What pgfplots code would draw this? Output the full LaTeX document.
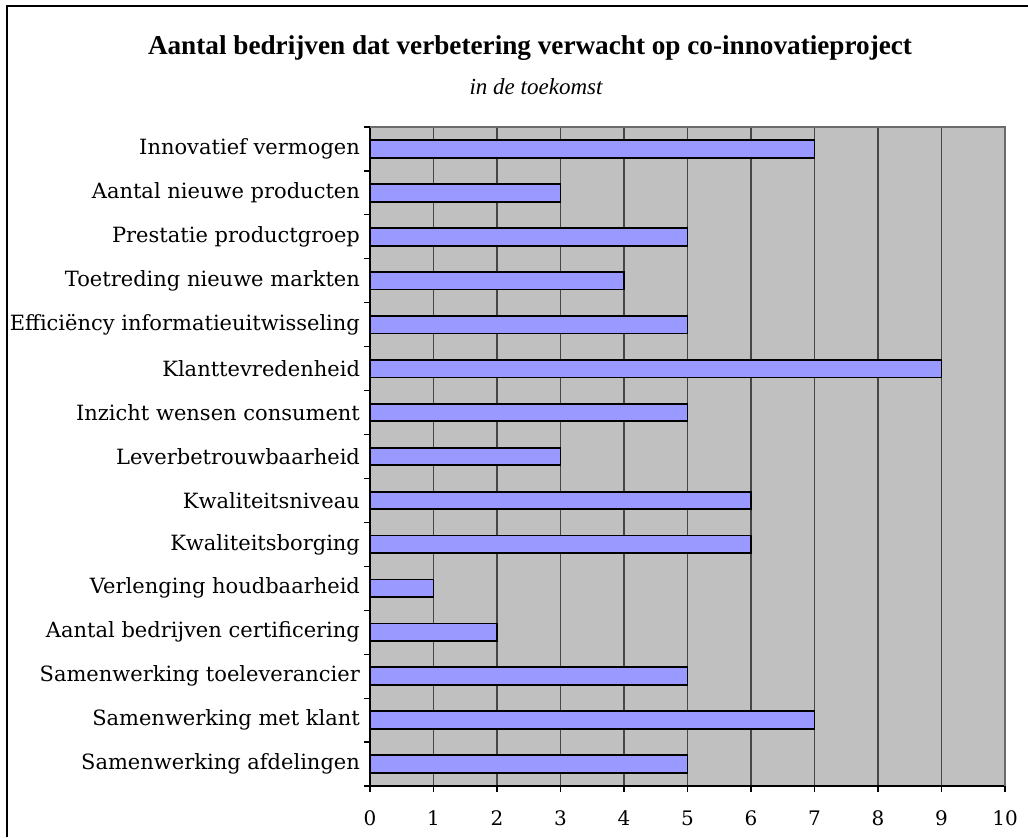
\documentclass[border=0pt]{standalone}
\usepackage{fontspec}
\setmainfont{Liberation Serif}
\newfontfamily\labelfont{DejaVu Serif}
\usepackage{pgfplots}
\pgfplotsset{compat=1.18}
\definecolor{plotbg}{RGB}{192,192,192}
\definecolor{barfill}{RGB}{153,153,255}
\definecolor{gridc}{RGB}{70,70,70}
\begin{document}
\begin{tikzpicture}[x=1pt,y=1pt]
\useasboundingbox (0,0) rectangle (514,418.5);
\draw[line width=1pt] (3.5,0) -- (3.5,415.5) -- (514,415.5);
\node[font=\fontsize{13.6}{15}\selectfont\bfseries] at (265,394.5) {Aantal bedrijven dat verbetering verwacht op co-innovatieproject};
\node[font=\fontsize{11.5}{13}\selectfont\itshape] at (268,375) {in de toekomst};
\begin{axis}[
  at={(185pt,25.5pt)}, anchor=south west,
  scale only axis, width=317.5pt, height=329.5pt,
  xmin=0, xmax=10, ymin=-0.5, ymax=14.5,
  xbar, bar width=0.4,
  axis x line*=bottom, axis y line*=left,
  axis line style={black, line width=0.8pt},
  axis background/.style={fill=plotbg},
  xtick={0,...,10},
  xmajorgrids, major grid style={gridc, line width=0.6pt},
  ytick={0,...,14},
  yticklabels={Samenwerking afdelingen,Samenwerking met klant,Samenwerking toeleverancier,Aantal bedrijven certificering,Verlenging houdbaarheid,Kwaliteitsborging,Kwaliteitsniveau,Leverbetrouwbaarheid,Inzicht wensen consument,Klanttevredenheid,Efficiëncy informatieuitwisseling,Toetreding nieuwe markten,Prestatie productgroep,Aantal nieuwe producten,Innovatief vermogen},
  minor ytick={-0.5,0.5,...,14.5},
  tick align=outside,
  major tick length=3pt, minor tick length=3pt,
  tick style={black, line width=0.6pt},
  major y tick style={draw=none},
  yticklabel style={font=\labelfont\fontsize{10.5}{12}\selectfont, xshift=1.5pt},
  xticklabel style={font=\labelfont\fontsize{10}{12}\selectfont, yshift=-6pt},
  /pgf/number format/assume math mode=true,
  clip=false,
]
\addplot[fill=barfill, draw=black, line width=0.9pt] coordinates {
(5,0) (7,1) (5,2) (2,3) (1,4) (6,5) (6,6) (3,7) (5,8) (9,9) (5,10) (4,11) (5,12) (3,13) (7,14)
};
\draw[gridc!80, line width=0.8pt] (rel axis cs:0,1) -- (rel axis cs:1,1) -- (rel axis cs:1,0);
\end{axis}
\end{tikzpicture}
\end{document}
